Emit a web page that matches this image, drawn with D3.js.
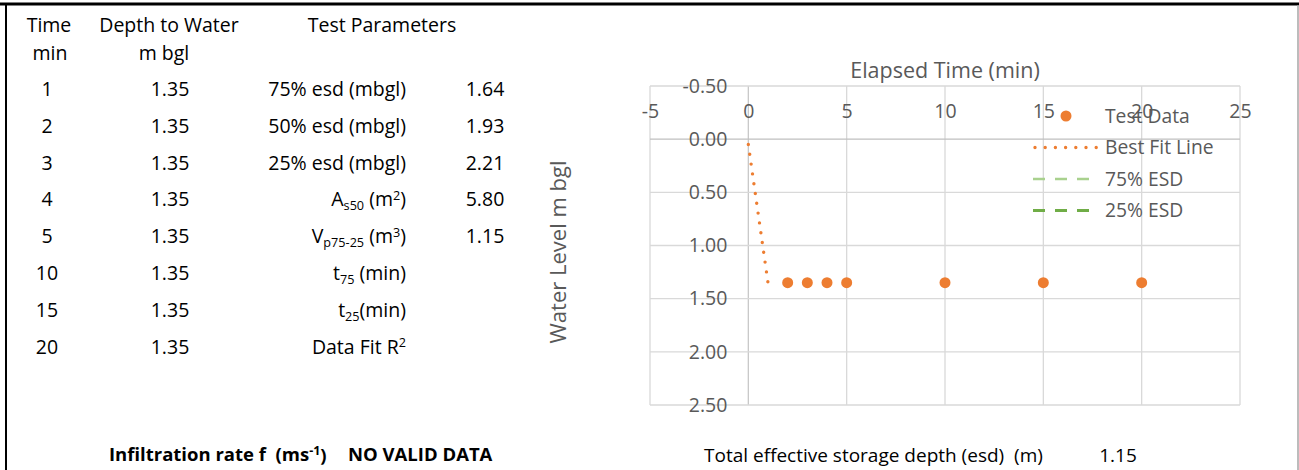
<!DOCTYPE html>
<html>
<head>
<meta charset="utf-8">
<script src="https://cdn.jsdelivr.net/npm/d3@7"></script>
<style>
  html, body { margin: 0; padding: 0; background: #fff; }
  svg { display: block; font-family: "Open Sans", Lato, sans-serif; }
</style>
</head>
<body>
<svg id="sheet" width="1299" height="470"></svg>
<script>
// Soakage test readings
const readingTime = [1, 2, 3, 4, 5, 10, 15, 20];            // min
const readingDepth = [1.35, 1.35, 1.35, 1.35, 1.35, 1.35, 1.35, 1.35]; // m bgl

// Plotted test data (first reading sits on the fit line, not plotted as a marker)
const plotTime = [2, 3, 4, 5, 10, 15, 20];
const plotLevel = [1.35, 1.35, 1.35, 1.35, 1.35, 1.35, 1.35];

// Best fit line
const fitTime = [0, 1];
const fitLevel = [0.05, 1.35];

// Test parameters
const paramLabels = ["75% esd (mbgl)", "50% esd (mbgl)", "25% esd (mbgl)", "As50", "Vp75-25", "t75", "t25", "fit"];
const paramValues = ["1.64", "1.93", "2.21", "5.80", "1.15", "", "", ""];

// Axis ticks
const xTicks = [-5, 0, 5, 10, 15, 20, 25];
const yTicks = [-0.5, 0, 0.5, 1.0, 1.5, 2.0, 2.5];

const legendItems = ["Test Data", "Best Fit Line", "75% ESD", "25% ESD"];
const totalEsd = "1.15";

const svg = d3.select("#sheet");
const NB = "\u00a0";

// ---- sheet frame ----
svg.append("line").attr("x1", 0).attr("x2", 1299).attr("y1", 4).attr("y2", 4)
  .attr("stroke", "#000").attr("stroke-width", 3);
svg.append("line").attr("x1", 6).attr("x2", 6).attr("y1", 3).attr("y2", 470)
  .attr("stroke", "#000").attr("stroke-width", 2);
svg.append("line").attr("x1", 1298).attr("x2", 1298).attr("y1", 5).attr("y2", 470)
  .attr("stroke", "#a6a6a6").attr("stroke-width", 1.5);

// ---- table ----
const tfs = 19.5;
const table = svg.append("g").attr("font-size", tfs).attr("fill", "#000");
function txt(g, x, y, s, anchor) {
  return g.append("text").attr("x", x).attr("y", y).attr("dy", "0.35em")
    .attr("text-anchor", anchor || "middle").text(s);
}
txt(table, 49, 25, "Time");
txt(table, 50, 53, "min");
txt(table, 169, 25, "Depth to Water");
txt(table, 164, 53, "m bgl");
txt(table, 382, 25, "Test Parameters");

const rowY = d3.scaleLinear().domain([0, 7]).range([89, 347]);
readingTime.forEach((t, i) => {
  txt(table, 47, rowY(i), String(t));
  txt(table, 170, rowY(i), readingDepth[i].toFixed(2));
});

const pRight = 406;
function paramText(i) {
  return table.append("text").attr("x", pRight).attr("y", rowY(i)).attr("dy", "0.35em")
    .attr("text-anchor", "end");
}
paramLabels.forEach((lab, i) => {
  const t = paramText(i);
  if (lab === "As50") {
    t.append("tspan").text("A");
    t.append("tspan").attr("font-size", tfs * 0.65).attr("dy", "0.3em").text("s50");
    t.append("tspan").attr("dy", "-0.2em").text(NB + "(m");
    t.append("tspan").attr("font-size", tfs * 0.65).attr("dy", "-0.5em").text("2");
    t.append("tspan").attr("dy", "0.32em").text(")");
  } else if (lab === "Vp75-25") {
    t.append("tspan").text("V");
    t.append("tspan").attr("font-size", tfs * 0.65).attr("dy", "0.3em").text("p75-25");
    t.append("tspan").attr("dy", "-0.2em").text(NB + "(m");
    t.append("tspan").attr("font-size", tfs * 0.65).attr("dy", "-0.5em").text("3");
    t.append("tspan").attr("dy", "0.32em").text(")");
  } else if (lab === "t75" || lab === "t25") {
    t.append("tspan").text("t");
    t.append("tspan").attr("font-size", tfs * 0.65).attr("dy", "0.3em").text(lab.slice(1));
    t.append("tspan").attr("dy", "-0.2em").text(lab === "t75" ? NB + "(min)" : "(min)");
  } else if (lab === "fit") {
    t.append("tspan").text("Data Fit R");
    t.append("tspan").attr("font-size", tfs * 0.65).attr("dy", "-0.5em").text("2");
  } else {
    t.text(lab);
  }
  if (paramValues[i]) txt(table, 485, rowY(i), paramValues[i]);
});

// infiltration result
const inf = table.append("text").attr("x", 109).attr("y", 455).attr("dy", "0.35em")
  .attr("font-weight", "bold").attr("font-size", 18.5);
inf.append("tspan").text("Infiltration rate f" + NB + NB + "(ms");
inf.append("tspan").attr("font-size", 12.5).attr("dy", "-0.55em").text("-1");
inf.append("tspan").attr("dy", "0.4em").text(")");
table.append("text").attr("x", 348).attr("y", 455).attr("dy", "0.35em")
  .attr("font-weight", "bold").attr("font-size", 18.5).text("NO VALID DATA");

// ---- chart ----
const x = d3.scaleLinear().domain([-5, 25]).range([650, 1240]);
const y = d3.scaleLinear().domain([-0.5, 2.5]).range([86, 405]);
const chart = svg.append("g");
const grid = "#d9d9d9";
const grey = "#595959";

chart.append("g").selectAll("line").data(xTicks).join("line")
  .attr("x1", d => x(d)).attr("x2", d => x(d)).attr("y1", y(-0.5)).attr("y2", y(2.5))
  .attr("stroke", d => d === 0 ? "#c8c8c8" : grid).attr("stroke-width", 1.3);
chart.append("g").selectAll("line").data(yTicks).join("line")
  .attr("x1", x(-5)).attr("x2", x(25)).attr("y1", d => y(d)).attr("y2", d => y(d))
  .attr("stroke", d => d === 0 ? "#bfbfbf" : grid).attr("stroke-width", 1.3);

const tickFs = 19.5;
const xAxis = chart.append("g").attr("transform", `translate(0,${y(0)})`)
  .call(d3.axisTop(x).tickValues(xTicks).tickSize(0).tickPadding(21).tickFormat(d => String(d)));
xAxis.select(".domain").remove();
xAxis.selectAll("text").attr("font-size", tickFs).attr("fill", grey)
  .attr("font-family", "'Open Sans', Lato, sans-serif");

const yAxis = chart.append("g").attr("transform", `translate(${x(0)},0)`)
  .call(d3.axisLeft(y).tickValues(yTicks).tickSize(0).tickPadding(21).tickFormat(d => d.toFixed(2)));
yAxis.select(".domain").remove();
yAxis.selectAll("text").attr("font-size", tickFs).attr("fill", grey)
  .attr("font-family", "'Open Sans', Lato, sans-serif");

// titles
chart.append("text").attr("x", 945).attr("y", 70).attr("dy", "0.35em")
  .attr("text-anchor", "middle").attr("font-size", 21.5).attr("fill", grey).text("Elapsed Time (min)");
chart.append("text").attr("transform", "translate(558,252) rotate(-90)").attr("dy", "0.35em")
  .attr("text-anchor", "middle").attr("font-size", 22).attr("fill", grey).text("Water Level m bgl");

// best fit line
const fitPts = fitTime.map((t, i) => [t, fitLevel[i]]);
chart.append("path").attr("d", d3.line().x(d => x(d[0])).y(d => y(d[1]))(fitPts))
  .attr("fill", "none").attr("stroke", "#ed7d31").attr("stroke-width", 3.4)
  .attr("stroke-linecap", "round").attr("stroke-dasharray", "0 9.9");

// test data
chart.append("g").selectAll("circle").data(plotTime).join("circle")
  .attr("cx", d => x(d)).attr("cy", (d, i) => y(plotLevel[i])).attr("r", 5.5)
  .attr("fill", "#ed7d31");

// legend
const leg = chart.append("g");
const legY = d3.scaleLinear().domain([0, 3]).range([116, 210.5]);
leg.append("circle").attr("cx", 1066).attr("cy", legY(0)).attr("r", 5.5).attr("fill", "#ed7d31");
leg.append("line").attr("x1", 1035).attr("x2", 1097).attr("y1", legY(1)).attr("y2", legY(1))
  .attr("stroke", "#ed7d31").attr("stroke-width", 3.4).attr("stroke-linecap", "round")
  .attr("stroke-dasharray", "0 10.2");
leg.append("line").attr("x1", 1033).attr("x2", 1090).attr("y1", legY(2)).attr("y2", legY(2))
  .attr("stroke", "#a9d18e").attr("stroke-width", 2.5).attr("stroke-dasharray", "12 10");
leg.append("line").attr("x1", 1033).attr("x2", 1090).attr("y1", legY(3)).attr("y2", legY(3))
  .attr("stroke", "#70ad47").attr("stroke-width", 3).attr("stroke-dasharray", "12 10");
leg.selectAll("text").data(legendItems).join("text")
  .attr("x", 1105).attr("y", (d, i) => legY(i)).attr("dy", "0.35em")
  .attr("font-size", 19.3).attr("fill", grey).text(d => d);

// bottom result
svg.append("text").attr("x", 704).attr("y", 455).attr("dy", "0.35em")
  .attr("font-size", 19).attr("fill", "#000").text("Total effective storage depth (esd)" + NB + NB + "(m)");
svg.append("text").attr("x", 1118).attr("y", 455).attr("dy", "0.35em")
  .attr("text-anchor", "middle").attr("font-size", 19).attr("fill", "#000").text(totalEsd);
</script>
</body>
</html>
